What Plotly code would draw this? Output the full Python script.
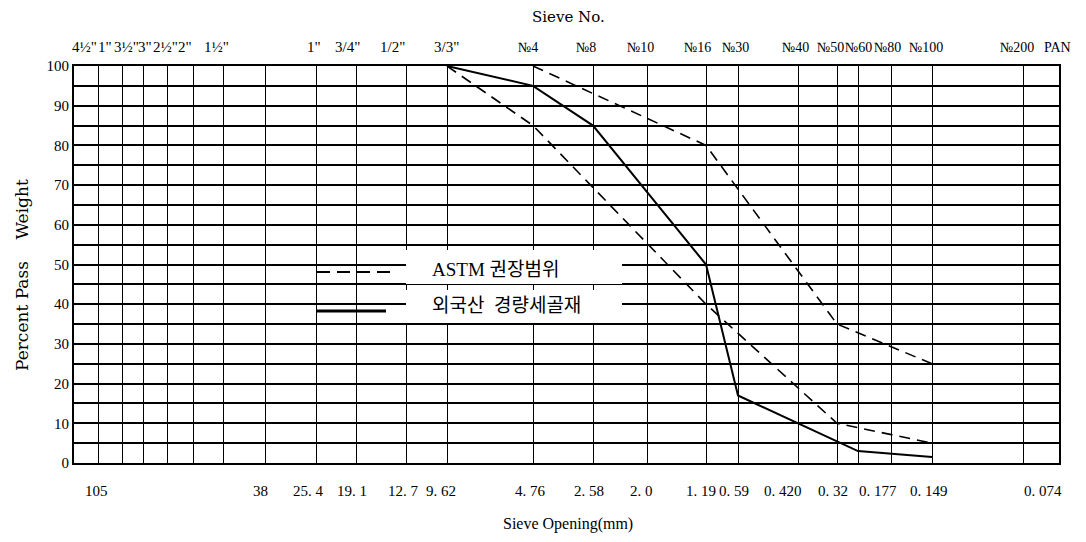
import plotly.graph_objects as go

# ---------------- data ----------------
sieves = ['3/8"', "No.4", "No.8", "No.10", "No.16", "No.30", "No.40",
          "No.50", "No.60", "No.80", "No.100"]
# 외국산 경량세골재 (solid)
passing_sample = [100, 95, 85, None, 50, 17, None, None, 3, None, 1.5]
# ASTM 권장범위 (dashed) upper / lower limits
astm_upper = [None, 100, None, None, 80, None, None, 35, None, None, 25]
astm_lower = [100, 85, None, None, 40, None, None, 10, None, None, 5]

top_inch_labels = ['4½"', '1"', '3½"', '3"', '2½"', '2"', '1½"',
                   '1"', '3/4"', '1/2"', '3/3"']
top_no_labels = ["№4", "№8", "№10", "№16", "№30", "№40", "№50", "№60",
                 "№80", "№100", "№200", "PAN"]
bottom_labels = ["105", "38", "25. 4", "19. 1", "12. 7", "9. 62", "4. 76", "2. 58",
                 "2. 0", "1. 19", "0. 59", "0. 420", "0. 32", "0. 177", "0. 149",
                 "0. 074"]
y_ticks = list(range(0, 101, 10))

# ---------------- layout (non-uniform sieve scale) ----------------
W, H = 1086, 542
L, R, T, B = 74, 1059, 66, 463
pw, ph = R - L, B - T

grid_cols = [74, 98, 122, 143, 167, 193, 223, 265, 316, 356, 406, 447, 533,
             593, 647, 706, 738, 798, 837, 858, 891, 932, 1023, 1059]
sieve_col = {'3/8"': 447, "No.4": 533, "No.8": 593, "No.10": 647,
             "No.16": 706, "No.30": 738, "No.40": 798, "No.50": 837,
             "No.60": 858, "No.80": 891, "No.100": 932}
top_inch_pos = [84, 105, 126, 145, 165, 185, 216, 314, 347, 392, 446]
top_no_pos = [528, 586, 640, 697, 735, 795, 830, 858, 887, 926, 1017, 1057]
bottom_pos = [96, 260, 308, 352, 403, 441, 530, 589, 641, 701, 734, 783,
              833, 878, 929, 1043]

SERIF = "Liberation Serif, DejaVu Serif, serif"
WIDE = "DejaVu Serif, Liberation Serif, serif"
LEG = "Liberation Serif, Noto Sans CJK KR, sans-serif"

xs = [sieve_col[s] for s in sieves]

fig = go.Figure()
fig.add_trace(go.Scatter(x=xs, y=astm_upper, mode="lines", connectgaps=True,
                         line=dict(color="black", width=1.6, dash="11px,7px"),
                         showlegend=False, name="ASTM 권장범위"))
fig.add_trace(go.Scatter(x=xs, y=astm_lower, mode="lines", connectgaps=True,
                         line=dict(color="black", width=1.6, dash="11px,7px"),
                         showlegend=False, name="ASTM 권장범위"))
fig.add_trace(go.Scatter(x=xs, y=passing_sample, mode="lines", connectgaps=True,
                         line=dict(color="black", width=2),
                         showlegend=False, name="외국산 경량세골재"))


def px(xp):
    return (xp - L) / pw


def py(yp):
    return (B - yp) / ph


shapes = []
# legend white boxes (over gridlines), with the 45% line kept
shapes.append(dict(type="rect", xref="paper", yref="paper", layer="above",
                   x0=px(406), x1=px(622), y0=py(284), y1=py(250),
                   fillcolor="white", line=dict(width=0)))
shapes.append(dict(type="rect", xref="paper", yref="paper", layer="above",
                   x0=px(406), x1=px(622), y0=py(323), y1=py(290),
                   fillcolor="white", line=dict(width=0)))
# legend glyphs
shapes.append(dict(type="line", xref="paper", yref="paper", layer="above",
                   x0=px(317), x1=px(392), y0=py(272), y1=py(272),
                   line=dict(color="black", width=2, dash="13px,7px")))
shapes.append(dict(type="line", xref="paper", yref="paper", layer="above",
                   x0=px(317), x1=px(386), y0=py(311), y1=py(311),
                   line=dict(color="black", width=3)))


def label(text, xp, yp, size, family=SERIF, **kw):
    d = dict(text=text, x=px(xp), xref="paper", y=py(yp), yref="paper",
             xanchor="center", yanchor="middle", showarrow=False,
             font=dict(family=family, size=size, color="black"))
    d.update(kw)
    return d


annotations = []
for t, xp in zip(top_inch_labels, top_inch_pos):
    annotations.append(label(t, xp, 47, 15))
for t, xp in zip(top_no_labels, top_no_pos):
    annotations.append(label(t, xp, 47, 14))
for t, xp in zip(bottom_labels, bottom_pos):
    annotations.append(label(t, xp, 491, 15))
annotations.append(label("Sieve No.", 568, 17, 15, WIDE))
annotations.append(label("Sieve Opening(mm)", 568, 524, 16))
annotations.append(label("Percent Pass    Weight", 22, 275, 17, WIDE, textangle=-90))
annotations.append(label("ASTM 권장범위", 430, 269, 19, LEG, xanchor="left"))
annotations.append(label("외국산  경량세골재", 430, 305, 19, LEG, xanchor="left"))

fig.update_layout(
    width=W, height=H,
    margin=dict(l=L, r=W - R, t=T, b=H - B),
    paper_bgcolor="white", plot_bgcolor="white",
    shapes=shapes, annotations=annotations,
    xaxis=dict(range=[L, R], tickvals=grid_cols, showticklabels=False, ticks="",
               showgrid=True, gridcolor="black", gridwidth=1.2, zeroline=False,
               showline=True, linecolor="black", linewidth=2, mirror=True),
    yaxis=dict(range=[0, 100], tickvals=y_ticks, ticktext=[str(v) for v in y_ticks],
               ticks="", showgrid=True, gridcolor="black", gridwidth=1.8,
               minor=dict(dtick=5, showgrid=True, gridcolor="black", gridwidth=1.8),
               zeroline=False, showline=True, linecolor="black", linewidth=2,
               mirror=True, tickfont=dict(family=SERIF, size=15, color="black")),
)

fig.write_html("out.html")
